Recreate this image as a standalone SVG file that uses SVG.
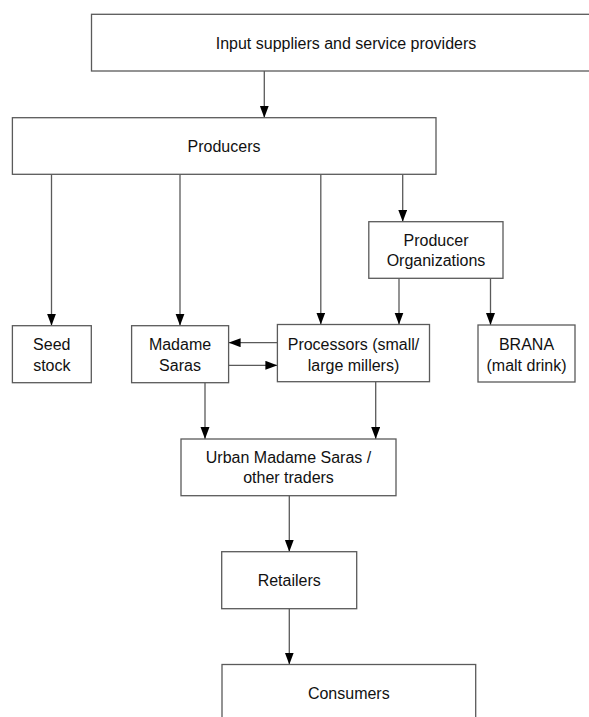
<svg xmlns="http://www.w3.org/2000/svg" width="589" height="717" viewBox="0 0 589 717">
<defs>
<marker id="ah" markerUnits="userSpaceOnUse" markerWidth="12" markerHeight="10" refX="12" refY="4.5" orient="auto">
<path d="M0,0 L12,4.5 L0,9 z" fill="#000"/>
</marker>
<style>
.box{fill:#fff;stroke:#5a5a5a;stroke-width:1.3}
.lbl{font-family:"Liberation Sans",Arial,sans-serif;font-size:16px;fill:#111;text-anchor:middle}
.con{stroke:#5a5a5a;stroke-width:1.3;fill:none;marker-end:url(#ah)}
</style>
</defs>
<rect width="589" height="717" fill="#fff"/>
<g id="connectors">
<line class="con" x1="264.3" y1="71" x2="264.3" y2="117.7"/>
<line class="con" x1="51.5" y1="174.3" x2="51.5" y2="325.7"/>
<line class="con" x1="180" y1="174.3" x2="180" y2="325.7"/>
<line class="con" x1="320.8" y1="174.3" x2="320.8" y2="324.5"/>
<line class="con" x1="402.7" y1="174.3" x2="402.7" y2="221.7"/>
<line class="con" x1="399" y1="278.3" x2="399" y2="324.5"/>
<line class="con" x1="490.5" y1="278.3" x2="490.5" y2="325"/>
<line class="con" x1="277.4" y1="342.7" x2="228.6" y2="342.7"/>
<line class="con" x1="228.6" y1="365.3" x2="277.4" y2="365.3"/>
<line class="con" x1="205" y1="382.7" x2="205" y2="439"/>
<line class="con" x1="375.7" y1="381.7" x2="375.7" y2="439"/>
<line class="con" x1="289.3" y1="495.7" x2="289.3" y2="551.7"/>
<line class="con" x1="289.3" y1="608.7" x2="289.3" y2="664.5"/>
</g>
<g id="input-suppliers">
<rect class="box" x="91.5" y="14.3" width="510" height="56.7"/>
<text class="lbl" x="346" y="48.5">Input suppliers and service providers</text>
</g>
<g id="producers">
<rect class="box" x="12.4" y="117.7" width="423.6" height="56.6"/>
<text class="lbl" x="224" y="152">Producers</text>
</g>
<g id="producer-organizations">
<rect class="box" x="368.8" y="221.7" width="134.2" height="56.6"/>
<text class="lbl" x="436" y="245.5">Producer</text>
<text class="lbl" x="436" y="265.7">Organizations</text>
</g>
<g id="seed-stock">
<rect class="box" x="12.4" y="325.7" width="78.9" height="57"/>
<text class="lbl" x="51.8" y="350">Seed</text>
<text class="lbl" x="51.8" y="370.5">stock</text>
</g>
<g id="madame-saras">
<rect class="box" x="131.6" y="325.7" width="97" height="57"/>
<text class="lbl" x="180" y="350">Madame</text>
<text class="lbl" x="180" y="370.5">Saras</text>
</g>
<g id="processors">
<rect class="box" x="277.4" y="324.5" width="152.1" height="57.2"/>
<text class="lbl" x="353.5" y="350">Processors (small/</text>
<text class="lbl" x="353.5" y="370.5">large millers)</text>
</g>
<g id="brana">
<rect class="box" x="478" y="325" width="97" height="57"/>
<text class="lbl" x="526.5" y="350">BRANA</text>
<text class="lbl" x="526.5" y="370.5">(malt drink)</text>
</g>
<g id="urban-traders">
<rect class="box" x="181" y="439" width="215" height="56.7"/>
<text class="lbl" x="288.5" y="462.7">Urban Madame Saras /</text>
<text class="lbl" x="288.5" y="482.7">other traders</text>
</g>
<g id="retailers">
<rect class="box" x="221.7" y="551.7" width="135" height="57"/>
<text class="lbl" x="289.2" y="586">Retailers</text>
</g>
<g id="consumers">
<rect class="box" x="222" y="664.5" width="253.7" height="60"/>
<text class="lbl" x="348.8" y="698.5">Consumers</text>
</g>
</svg>
